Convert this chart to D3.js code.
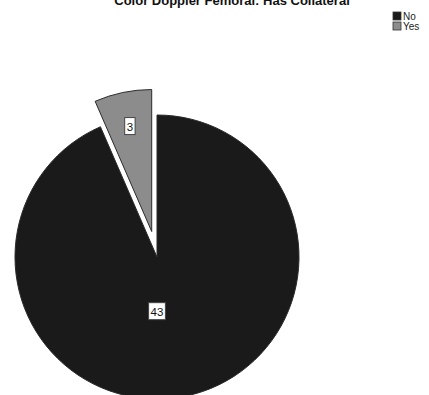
<!DOCTYPE html>
<html>
<head>
<meta charset="utf-8">
<script src="https://cdn.jsdelivr.net/npm/d3@7"></script>
<style>
  body { margin: 0; background: #fff; }
  svg { display: block; font-family: "Liberation Sans", Arial, sans-serif; }
</style>
</head>
<body>
<svg id="chart" width="429" height="395"></svg>
<script>
// Category counts
const categories = ["No", "Yes"];
const counts = [43, 3];
const titleText = "Color Doppler Femoral: Has Collateral";

const colors = d3.scaleOrdinal().domain(categories).range(["#1a1a1a", "#8c8c8c"]);

const svg = d3.select("#chart");
const cx = 157, cy = 257, radius = 142;
const explodeBy = 26; // offset of the pulled-out slice

const pie = d3.pie().sort(null).value(d => d.value);
const arcs = pie(categories.map((c, i) => ({ key: c, value: counts[i] })));
const arc = d3.arc().innerRadius(0).outerRadius(radius);

const biggest = d3.max(counts);
const midAngle = a => (a.startAngle + a.endAngle) / 2;
const polar = (ang, r) => [Math.sin(ang) * r, -Math.cos(ang) * r];

const g = svg.append("g").attr("transform", `translate(${cx},${cy})`);

const slices = g.selectAll("g.slice")
  .data(arcs)
  .join("g")
  .attr("class", "slice")
  .attr("transform", d => {
    if (d.data.value === biggest) return null;
    const [dx, dy] = polar(midAngle(d), explodeBy);
    return `translate(${dx},${dy})`;
  });

slices.append("path")
  .attr("d", arc)
  .attr("fill", d => colors(d.data.key))
  .attr("stroke", "#2a2a2a")
  .attr("stroke-width", 1);

// Value labels in small white boxes
slices.each(function(d) {
  const sel = d3.select(this);
  let pos;
  if (d.data.value === biggest) pos = [0, radius * 0.385];
  else pos = polar(midAngle(d), radius * 0.755);
  const lg = sel.append("g").attr("transform", `translate(${pos[0]},${pos[1]})`);
  const txt = lg.append("text")
    .attr("text-anchor", "middle")
    .attr("dy", "0.36em")
    .attr("font-size", 11.5)
    .attr("fill", "#111")
    .text(d.data.value);
  const bb = txt.node().getBBox();
  lg.insert("rect", "text")
    .attr("x", bb.x - 2)
    .attr("y", -9)
    .attr("width", bb.width + 4)
    .attr("height", 17)
    .attr("fill", "#fff")
    .attr("stroke", "#444")
    .attr("stroke-width", 1);
});

// Title (sits at the very top edge)
svg.append("text")
  .attr("x", 232)
  .attr("y", 5)
  .attr("text-anchor", "middle")
  .attr("font-size", 13)
  .attr("font-weight", "bold")
  .attr("fill", "#111")
  .text(titleText);

// Legend
const legend = svg.append("g").attr("transform", "translate(393,12)");
const items = legend.selectAll("g")
  .data(categories)
  .join("g")
  .attr("transform", (d, i) => `translate(0,${i * 10})`);
items.append("rect")
  .attr("width", 8).attr("height", 8)
  .attr("fill", d => colors(d))
  .attr("stroke", "#333").attr("stroke-width", 0.8);
items.append("text")
  .attr("x", 10).attr("y", 8)
  .attr("font-size", 10)
  .attr("fill", "#222")
  .text(d => d);
</script>
</body>
</html>
